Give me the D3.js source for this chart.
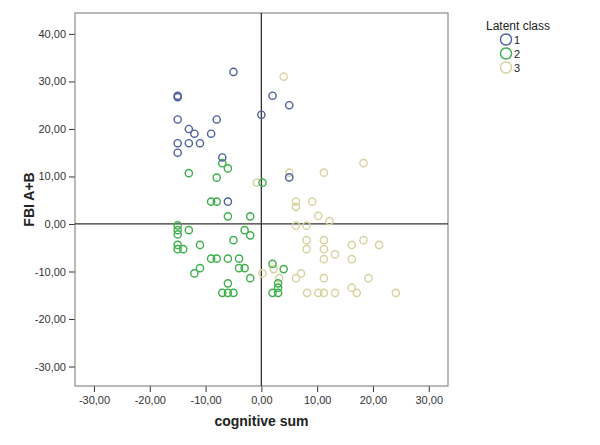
<!DOCTYPE html>
<html>
<head>
<meta charset="utf-8">
<script src="https://cdn.jsdelivr.net/npm/d3@7"></script>
<style>
  body { margin: 0; background: #fff; }
  svg { font-family: "Liberation Sans", Arial, sans-serif; }
</style>
</head>
<body>
<svg id="chart" width="600" height="445"></svg>
<script>
// values
let classNames = ["1", "2", "3"]
let classColors = ["#4f5e9e", "#3daf4c", "#d6d29e"]

let cog1 = [-15, -15, -5, 2, 0, 5, -15, -8, -13, -12, -9, -15, -13, -11, -15, -7, -6, 5]
let fbi1 = [27, 26.7, 32, 27, 23, 25, 22, 22, 20, 19, 19, 17, 17, 17, 15, 14, 4.7, 9.8]

let cog2 = [-7, -6, -13, -8, 0.2, -9, -8, -6, -2, -15, -15, -15, -13, -3, -2, -5, -15, -15, -14, -11,
            -9, -8, -6, -4, -4, -3, -11, -12, -2, -6, -7, -6, -5, 2, 4, 3, 3, 3, 2]
let fbi2 = [12.8, 11.7, 10.7, 9.75, 8.7, 4.7, 4.7, 1.6, 1.6, -0.3, -1.3, -2.2, -1.3, -1.3, -2.4, -3.4, -4.4, -5.3, -5.3, -4.4,
            -7.3, -7.3, -7.3, -7.3, -9.3, -9.3, -9.3, -10.4, -11.4, -12.5, -14.5, -14.5, -14.5, -8.4, -9.5, -12.5, -13.4, -14.5, -14.5]

let cog3 = [4, 5, 11.2, 18.3, -0.8, 6.2, 6.2, 9.1, 10.2, 12.2, 6.2, 8.1, 8.1, 11.2, 18.3, 8.1, 11.2, 16.2, 21.1, 13.2,
            11.2, 16.2, 0.2, 2.2, 6.2, 7.1, 3.2, 11.2, 19.2, 8.2, 10.2, 11.2, 13.2, 16.2, 17.1, 24.1]
let fbi3 = [31, 10.8, 10.8, 12.8, 8.7, 4.7, 3.6, 4.7, 1.7, 0.6, -0.35, -0.35, -3.4, -3.4, -3.4, -5.3, -5.3, -4.4, -4.4, -6.4,
            -7.4, -7.4, -10.4, -9.5, -11.4, -10.4, -11.4, -11.4, -11.4, -14.5, -14.5, -14.5, -14.5, -13.4, -14.5, -14.5]

let xTicks = [-30, -20, -10, 0, 10, 20, 30]
let yTicks = [-30, -20, -10, 0, 10, 20, 30, 40]

let xTitle = "cognitive sum"
let yTitle = "FBI A+B"
let legendTitle = "Latent class"

let series = [
  {name: classNames[0], color: classColors[0], xs: cog1, ys: fbi1},
  {name: classNames[1], color: classColors[1], xs: cog2, ys: fbi2},
  {name: classNames[2], color: classColors[2], xs: cog3, ys: fbi3}
]

// comma decimals like the original
let locale = d3.formatLocale({decimal: ",", thousands: ".", grouping: [3], currency: ["", ""], minus: "-"})
let fmt = locale.format(".2f")

let svg = d3.select("#chart")

// plot area
let plot = {left: 75, right: 448, top: 13, bottom: 386}

let x = d3.scaleLinear()
          .domain([-33.4, 33.45])
          .range([plot.left, plot.right])

let y = d3.scaleLinear()
          .domain([-34.1, 44.4])
          .range([plot.bottom, plot.top])

// axes
let xAxis = svg.append("g")
               .attr("transform", `translate(0,${plot.bottom})`)
               .call(d3.axisBottom(x).tickValues(xTicks).tickFormat(fmt).tickSizeOuter(0).tickSize(6).tickPadding(4))
xAxis.select(".domain").remove()
xAxis.selectAll("line").attr("stroke", "#333")
xAxis.selectAll("text").attr("fill", "#333").style("font-size", "11px")

let yAxis = svg.append("g")
               .attr("transform", `translate(${plot.left},0)`)
               .call(d3.axisLeft(y).tickValues(yTicks).tickFormat(fmt).tickSizeOuter(0).tickSize(6).tickPadding(3))
yAxis.select(".domain").remove()
yAxis.selectAll("line").attr("stroke", "#333")
yAxis.selectAll("text").attr("fill", "#333").style("font-size", "11px")

// frame
svg.append("rect")
   .attr("x", plot.left)
   .attr("y", plot.top)
   .attr("width", plot.right - plot.left)
   .attr("height", plot.bottom - plot.top)
   .attr("fill", "none")
   .attr("stroke", "#8a8a8a")
   .attr("stroke-width", 1.2)

// reference lines at zero
svg.append("line")
   .attr("x1", x(0)).attr("x2", x(0))
   .attr("y1", plot.top).attr("y2", plot.bottom)
   .attr("stroke", "#333").attr("stroke-width", 1.3)
svg.append("line")
   .attr("x1", plot.left).attr("x2", plot.right)
   .attr("y1", y(0)).attr("y2", y(0))
   .attr("stroke", "#333").attr("stroke-width", 1.3)

// points, last class drawn first so blue sits on top
series.slice().reverse().forEach(function(s) {
  let pts = s.xs.map(function(v, i) { return {cx: v, cy: s.ys[i]} })
  svg.append("g")
     .selectAll("circle")
     .data(pts)
     .join("circle")
     .attr("cx", function(d) { return x(d.cx) })
     .attr("cy", function(d) { return y(d.cy) })
     .attr("r", 3.6)
     .attr("fill", "none")
     .attr("stroke", s.color)
     .attr("stroke-width", 1.4)
})

// axis titles
svg.append("text")
   .attr("x", (plot.left + plot.right) / 2)
   .attr("y", 426)
   .attr("text-anchor", "middle")
   .style("font-size", "14px")
   .style("font-weight", "bold")
   .attr("fill", "#222")
   .text(xTitle)

svg.append("text")
   .attr("transform", `translate(34,${(plot.top + plot.bottom) / 2}) rotate(-90)`)
   .attr("text-anchor", "middle")
   .style("font-size", "14px")
   .style("font-weight", "bold")
   .attr("fill", "#222")
   .text(yTitle)

// legend
let legend = svg.append("g").attr("transform", "translate(486,0)")
legend.append("text")
      .attr("x", 0).attr("y", 30)
      .style("font-size", "12px")
      .attr("fill", "#222")
      .text(legendTitle)

series.forEach(function(s, i) {
  let cy = 39.5 + i * 14
  legend.append("circle")
        .attr("cx", 20).attr("cy", cy)
        .attr("r", 5.5)
        .attr("fill", "none")
        .attr("stroke", s.color)
        .attr("stroke-width", 1.4)
  legend.append("text")
        .attr("x", 28).attr("y", cy + 4)
        .style("font-size", "11px")
        .attr("fill", "#222")
        .text(s.name)
})
</script>
</body>
</html>
